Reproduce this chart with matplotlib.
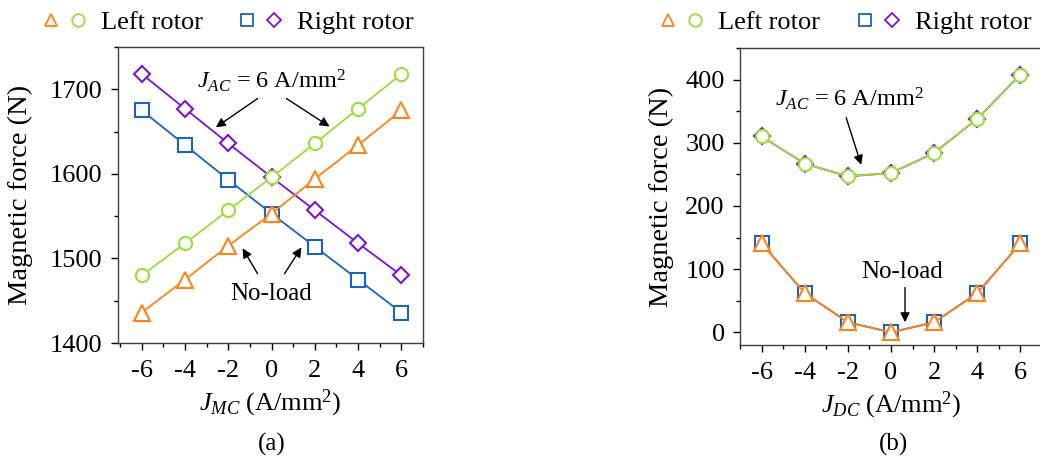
import numpy as np
import matplotlib
matplotlib.use("Agg")
import matplotlib.pyplot as plt
from matplotlib.lines import Line2D
from matplotlib.legend_handler import HandlerTuple
from matplotlib.ticker import MultipleLocator

plt.rcParams['font.family'] = ['Liberation Serif', 'DejaVu Serif']
plt.rcParams['mathtext.fontset'] = 'custom'
plt.rcParams['mathtext.rm'] = 'Liberation Serif'
plt.rcParams['mathtext.it'] = 'Liberation Serif:italic'
plt.rcParams['font.size'] = 19

# current density (A/mm^2)
J = [-6, -4, -2, 0, 2, 4, 6]

# (a) magnetic force vs J_MC
a_left_noload = [1436, 1475, 1515, 1553, 1594, 1634, 1675]
a_left_load = [1480, 1518, 1557, 1596, 1636, 1677, 1718]
a_right_noload = [1675, 1634, 1593, 1553, 1514, 1475, 1436]
a_right_load = [1718, 1677, 1636, 1596, 1557, 1518, 1480]

# (b) magnetic force vs J_DC
b_left_noload = [141, 62, 16, 0, 16, 62, 141]
b_left_load = [310, 267, 247, 252, 284, 338, 408]
b_right_noload = [141, 62, 16, 0, 16, 62, 141]
b_right_load = [310, 267, 247, 252, 284, 338, 408]

c_orange = '#FF8418'
c_green = '#9ADF3A'
c_blue = '#1A64C0'
c_purple = '#7B12D9'

fig = plt.figure(figsize=(10.4, 4.59), dpi=100)
ax1 = fig.add_axes([0.1135, 0.2527, 0.2932, 0.6449])
ax2 = fig.add_axes([0.7115, 0.2484, 0.2915, 0.6470])


def draw(ax, ln, ll, rn, rl):
    kw = dict(lw=1.3, markerfacecolor='white', markeredgewidth=1.5, clip_on=False)
    ax.plot(J, rn, '-s', color=c_blue, markersize=10, **kw)
    ax.plot(J, rl, '-D', color=c_purple, markersize=8.5, **kw)
    ax.plot(J, ln, '-^', color=c_orange, markersize=12, **kw)
    ax.plot(J, ll, '-o', color=c_green, markersize=9.5, **kw)
    ax.set_xticks(J)
    ax.set_xticklabels([str(v) for v in J])
    ax.xaxis.set_minor_locator(MultipleLocator(1))
    ax.tick_params(which='major', direction='out', length=5, width=1)
    ax.tick_params(which='minor', direction='out', length=3, width=1)
    ax.tick_params(axis='x', which='major', pad=7.5)
    ax.tick_params(axis='y', which='major', pad=6)
    for s in ax.spines.values():
        s.set_color('#404040')
        s.set_linewidth(1)
    ax.set_ylabel('Magnetic force (N)', fontsize=20.5)


draw(ax1, a_left_noload, a_left_load, a_right_noload, a_right_load)
ax1.set_xlim(-7.1, 7.0)
ax1.set_ylim(1400, 1750)
ax1.set_yticks([1400, 1500, 1600, 1700])
ax1.yaxis.set_minor_locator(MultipleLocator(50))
ax1.set_xlabel(r'$J_{MC}$ (A/mm$^2$)', fontsize=19)

draw(ax2, b_left_noload, b_left_load, b_right_noload, b_right_load)
ax2.set_xlim(-7.0, 7.05)
ax2.set_ylim(-20, 450)
ax2.set_yticks([0, 100, 200, 300, 400])
ax2.yaxis.set_minor_locator(MultipleLocator(50))
ax2.set_xlabel(r'$J_{DC}$ (A/mm$^2$)', fontsize=19)

ax1.yaxis.set_label_coords(-0.28, 0.5)
ax2.yaxis.set_label_coords(-0.218, 0.5)

arr = dict(arrowstyle='-|>', color='k', lw=1, mutation_scale=14, shrinkA=0, shrinkB=0)
lab = r'$J_{AC}$ = 6 A/mm$^2$'

# (a) annotations
ax1.text(0, 1710, lab, ha='center', va='center', fontsize=17.5)
ax1.annotate('', xy=(-2.58, 1655), xytext=(-0.65, 1689), arrowprops=arr)
ax1.annotate('', xy=(2.68, 1656), xytext=(0.69, 1689), arrowprops=arr)
ax1.text(0, 1458, 'No-load', ha='center', va='center', fontsize=18)
ax1.annotate('', xy=(-1.34, 1512), xytext=(-0.65, 1482), arrowprops=arr)
ax1.annotate('', xy=(1.38, 1513), xytext=(0.6, 1482), arrowprops=arr)

# (b) annotations
ax2.text(-1.94, 370, lab, ha='center', va='center', fontsize=17.5)
ax2.annotate('', xy=(-1.38, 265), xytext=(-2.08, 340), arrowprops=arr)
ax2.text(0.5, 95, 'No-load', ha='center', va='center', fontsize=18)
ax2.annotate('', xy=(0.65, 16), xytext=(0.65, 71), arrowprops=arr)

fig.text(0.2615, 0.031, '(a)', ha='center', va='center', fontsize=18)
fig.text(0.859, 0.031, '(b)', ha='center', va='center', fontsize=18)

# legends
mk = dict(linestyle='none', markerfacecolor='white', markeredgewidth=1.3)
h_tri = Line2D([], [], marker='^', color=c_orange, markersize=9, **mk)
h_cir = Line2D([], [], marker='o', color=c_green, markersize=9, **mk)
h_sq = Line2D([], [], marker='s', color=c_blue, markersize=8.5, **mk)
h_dia = Line2D([], [], marker='D', color=c_purple, markersize=7.5, **mk)
for cx in [0.217, 0.811]:
    fig.legend([(h_tri, h_cir), (h_sq, h_dia)], ['Left rotor', 'Right rotor'],
               handler_map={tuple: HandlerTuple(ndivide=None, pad=0.05)},
               loc='center', bbox_to_anchor=(cx, 0.952), ncol=2, frameon=False,
               fontsize=19, handlelength=2.0, handletextpad=0.38, columnspacing=1.2,
               borderpad=0)

fig.savefig('out.png', dpi=100)
